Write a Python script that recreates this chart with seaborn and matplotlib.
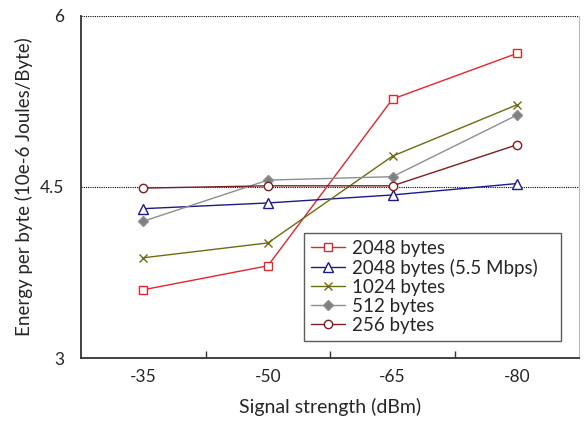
import matplotlib
matplotlib.use("Agg")
import matplotlib.pyplot as plt
import numpy as np
import pandas as pd
import seaborn as sns

signal = ["-35", "-50", "-65", "-80"]
series_names = ["2048 bytes", "2048 bytes (5.5 Mbps)", "1024 bytes", "512 bytes", "256 bytes"]
energy_2048 = [3.60, 3.81, 5.27, 5.67]
energy_2048_55 = [4.31, 4.36, 4.43, 4.53]
energy_1024 = [3.88, 4.01, 4.77, 5.22]
energy_512 = [4.20, 4.56, 4.59, 5.13]
energy_256 = [4.49, 4.51, 4.51, 4.87]

colors = ["#e3262d", "#1c1a86", "#6e6b12", "#8e8e8e", "#7b1f1f"]
markers = ["s", "^", "x", "D", "o"]
facecolors = ["white", "white", None, "#808080", "white"]
sizes = [6, 6.5, 5.5, 5, 6]

sns.set_style("white")
plt.rcParams["font.family"] = ["Lato", "DejaVu Sans"]

rows = []
for name, vals in zip(series_names, [energy_2048, energy_2048_55, energy_1024, energy_512, energy_256]):
    for i, v in enumerate(vals):
        rows.append({"series": name, "pos": i, "energy": v})
df = pd.DataFrame(rows)

fig = plt.figure(figsize=(5.85, 4.23), dpi=100)
ax = fig.add_axes([0.1385, 0.153, 0.852, 0.81])

ax.axhline(4.5, color="black", lw=0.8, ls=(0, (1, 1)), zorder=0)
ax.axhline(6.0, color="black", lw=0.8, ls=(0, (1, 1)), zorder=0)

for name, c, m, fc, ms in zip(series_names, colors, markers, facecolors, sizes):
    kw = dict(marker=m, markersize=ms, markeredgecolor=c, markeredgewidth=1.0)
    if fc is not None:
        kw["markerfacecolor"] = fc
    sns.lineplot(data=df[df["series"] == name], x="pos", y="energy", color=c,
                 lw=1.0, label=name, ax=ax, **kw)

ax.set_xlim(-0.5, 3.5)
ax.set_ylim(3, 6)
ax.set_yticks([3, 4.5, 6])
ax.set_yticklabels(["3", "4.5", "6"])
ax.set_xticks(range(len(signal)))
ax.set_xticklabels(signal)
ax.set_xticks([0.5, 1.5, 2.5], minor=True)
ax.tick_params(axis="both", which="major", length=0, labelsize=12.5)
ax.tick_params(axis="x", pad=8)
ax.tick_params(axis="y", pad=12)
ax.tick_params(axis="x", which="minor", direction="in", length=5, width=1, color="#333333", bottom=True)

ax.spines["top"].set_visible(False)
ax.spines["left"].set_color("#333333")
ax.spines["bottom"].set_color("#333333")
ax.spines["left"].set_linewidth(1.3)
ax.spines["bottom"].set_linewidth(1.3)
ax.spines["right"].set_color("#bbbbbb")

ax.set_xlabel("Signal strength (dBm)", fontsize=14, labelpad=9)
ax.set_ylabel("Energy per byte (10e-6 Joules/Byte)", fontsize=13.5, labelpad=5)

leg = ax.legend(loc="upper left", bbox_to_anchor=(0.447, 0.357, 0.517, 0.01), mode="expand",
                fontsize=13.5, frameon=True, fancybox=False, handlelength=1.8,
                handletextpad=0.35, labelspacing=0.1, borderpad=0.4, borderaxespad=0)
leg.get_frame().set_edgecolor("#333333")
leg.get_frame().set_linewidth(1.0)

fig.savefig("out.png", dpi=100)
